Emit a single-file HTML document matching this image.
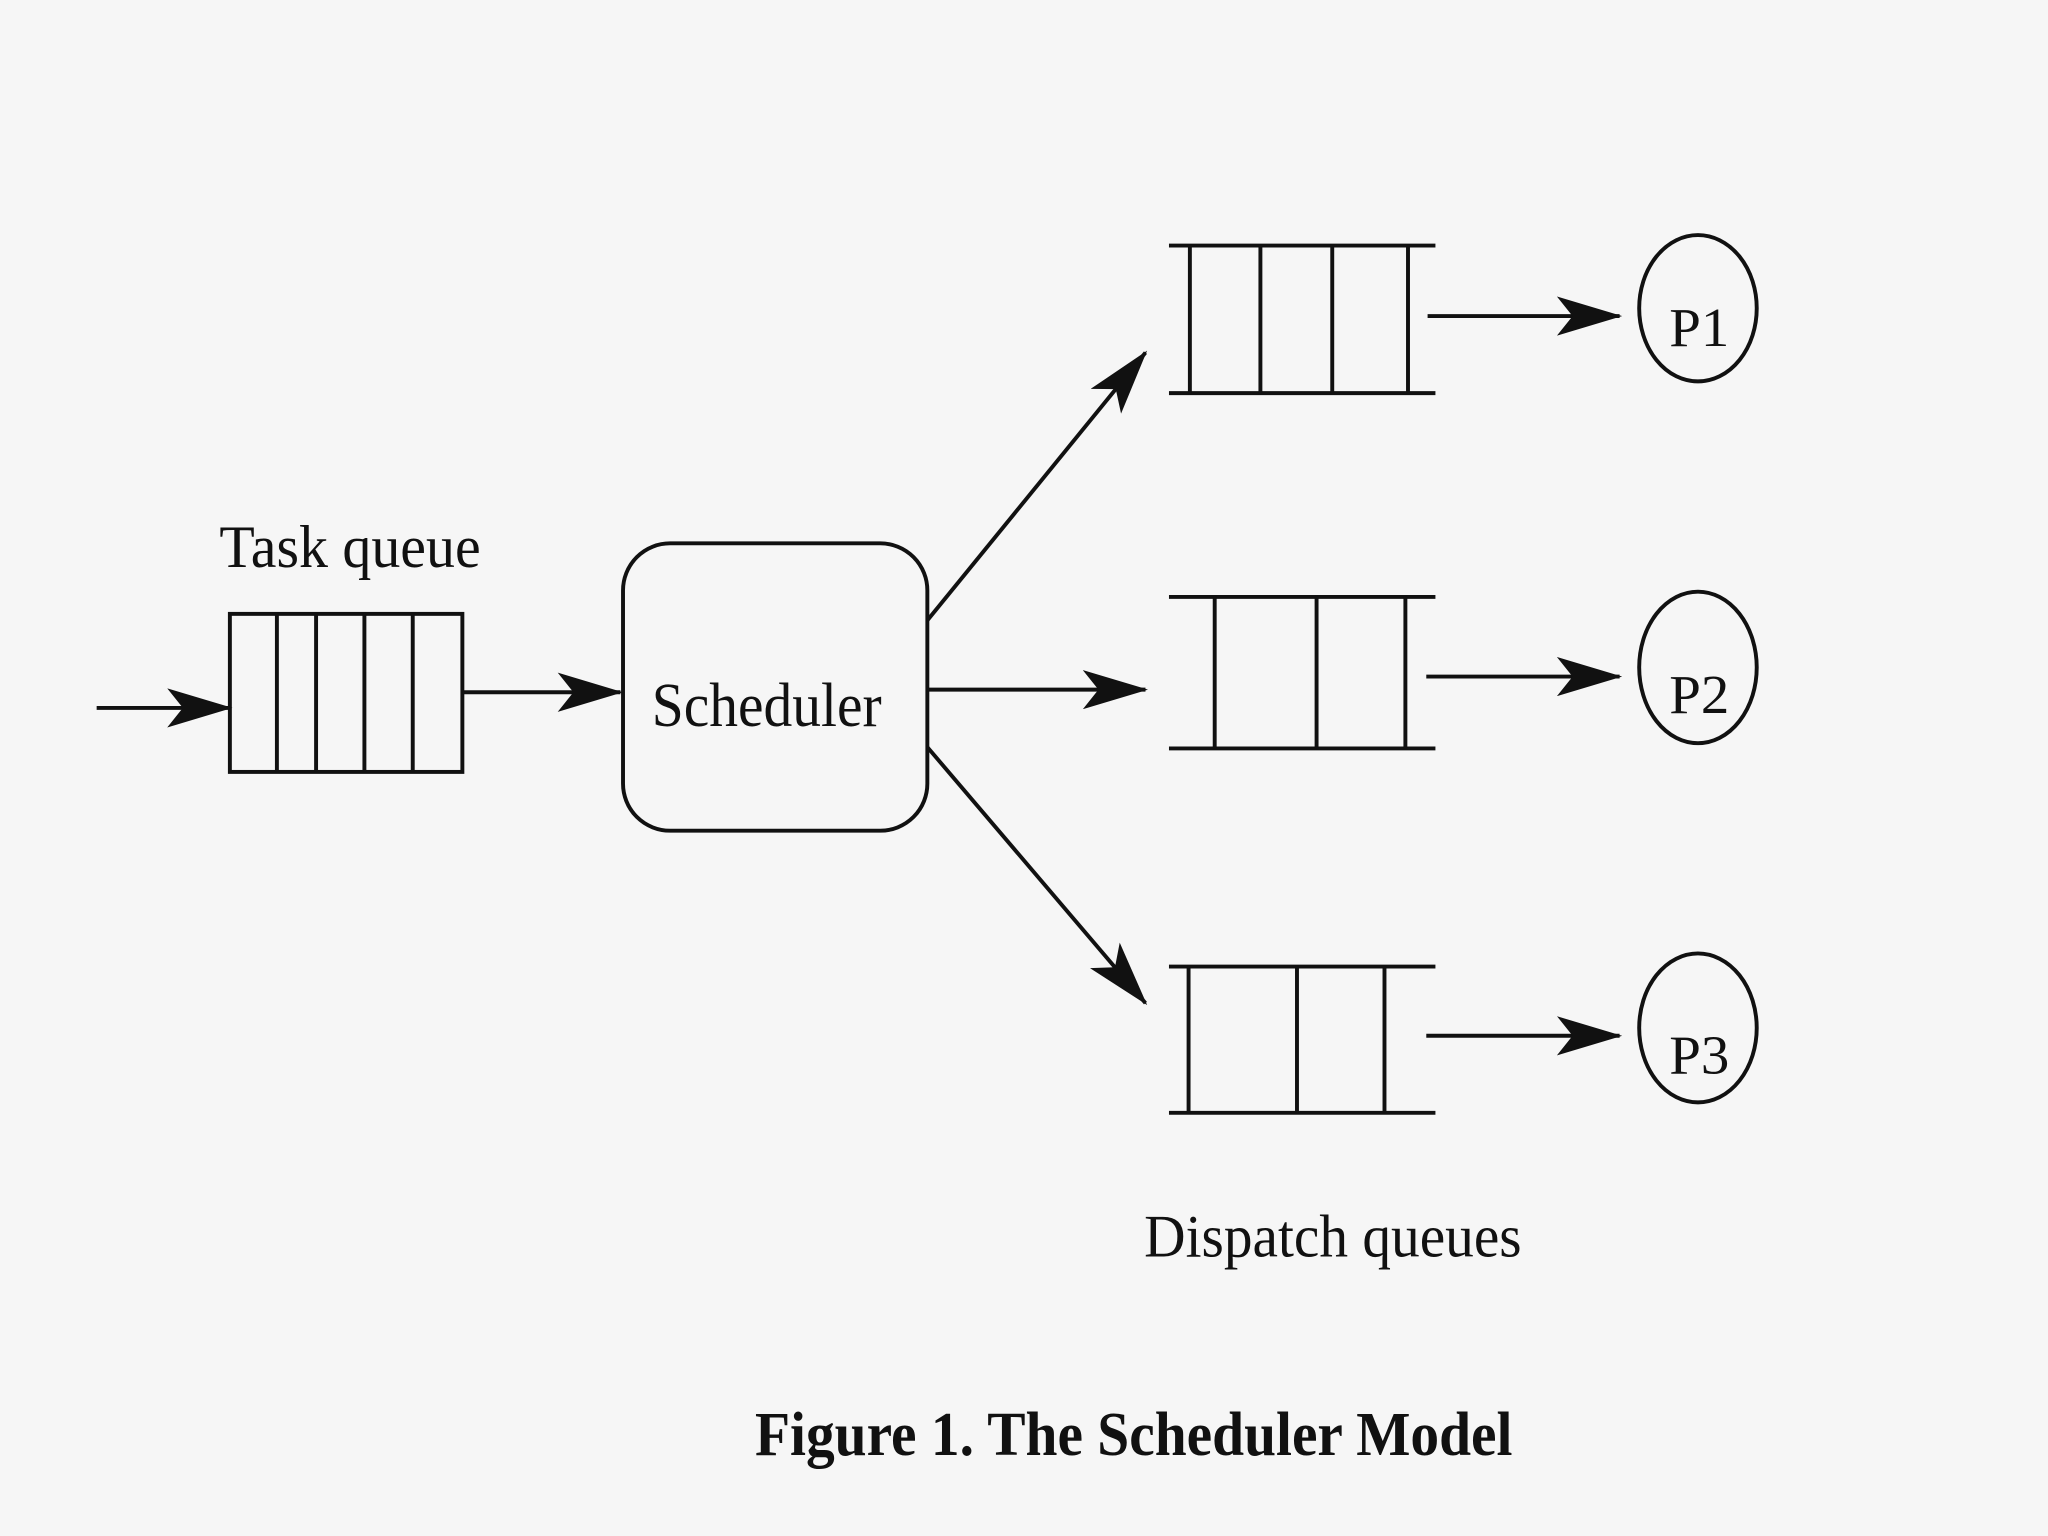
<!DOCTYPE html>
<html><head><meta charset="utf-8"><style>
html,body{margin:0;padding:0;background:#f6f6f6;}
svg{display:block;}
text{font-family:"Liberation Serif",serif;fill:#111;}
</style></head><body>
<svg width="2048" height="1536" viewBox="0 0 1568 1176" preserveAspectRatio="none" xmlns="http://www.w3.org/2000/svg">
<defs>
<marker id="ah" markerWidth="10" markerHeight="8" refX="9" refY="4" orient="auto" markerUnits="userSpaceOnUse" viewBox="0 0 10 8">
</marker>
<marker id="a" viewBox="0 0 50 30" refX="48" refY="15" markerWidth="50" markerHeight="30" orient="auto" markerUnits="userSpaceOnUse">
<path d="M0,0 L50,15 L0,30 L12,15 Z" fill="#111"/>
</marker>
</defs>
<rect width="1568" height="1176" fill="#f6f6f6"/>
<g stroke="#111" stroke-width="3" fill="none">
<!-- task queue -->
<rect x="176" y="470" width="178" height="121"/>
<line x1="212" y1="470" x2="212" y2="591"/>
<line x1="242" y1="470" x2="242" y2="591"/>
<line x1="279" y1="470" x2="279" y2="591"/>
<line x1="316" y1="470" x2="316" y2="591"/>
<line x1="74" y1="542" x2="176" y2="542" marker-end="url(#a)"/>
<line x1="354" y1="530" x2="475" y2="530" marker-end="url(#a)"/>
<!-- scheduler -->
<rect x="477" y="416" width="233" height="220" rx="36"/>
<line x1="710" y1="475" x2="877" y2="270" marker-end="url(#a)"/>
<line x1="710" y1="528" x2="877" y2="528" marker-end="url(#a)"/>
<line x1="710" y1="572" x2="877" y2="768" marker-end="url(#a)"/>
<!-- dispatch 1 -->
<line x1="895" y1="188" x2="1099" y2="188"/>
<line x1="895" y1="301" x2="1099" y2="301"/>
<line x1="911" y1="188" x2="911" y2="301"/>
<line x1="965" y1="188" x2="965" y2="301"/>
<line x1="1020" y1="188" x2="1020" y2="301"/>
<line x1="1078" y1="188" x2="1078" y2="301"/>
<line x1="1093" y1="242" x2="1240" y2="242" marker-end="url(#a)"/>
<!-- dispatch 2 -->
<line x1="895" y1="457" x2="1099" y2="457"/>
<line x1="895" y1="573" x2="1099" y2="573"/>
<line x1="930" y1="457" x2="930" y2="573"/>
<line x1="1008" y1="457" x2="1008" y2="573"/>
<line x1="1076" y1="457" x2="1076" y2="573"/>
<line x1="1092" y1="518" x2="1240" y2="518" marker-end="url(#a)"/>
<!-- dispatch 3 -->
<line x1="895" y1="740" x2="1099" y2="740"/>
<line x1="895" y1="852" x2="1099" y2="852"/>
<line x1="910" y1="740" x2="910" y2="852"/>
<line x1="993" y1="740" x2="993" y2="852"/>
<line x1="1060" y1="740" x2="1060" y2="852"/>
<line x1="1092" y1="793" x2="1240" y2="793" marker-end="url(#a)"/>
<!-- processors -->
<ellipse cx="1300" cy="236" rx="45" ry="56"/>
<ellipse cx="1300" cy="511" rx="45" ry="58"/>
<ellipse cx="1300" cy="787" rx="45" ry="57"/>
</g>
<text x="168" y="434" font-size="46" textLength="200" lengthAdjust="spacingAndGlyphs">Task queue</text>
<text x="499" y="556" font-size="48" textLength="176" lengthAdjust="spacingAndGlyphs">Scheduler</text>
<text x="1278" y="265" font-size="42" textLength="46" lengthAdjust="spacingAndGlyphs">P1</text>
<text x="1278" y="546" font-size="42" textLength="46" lengthAdjust="spacingAndGlyphs">P2</text>
<text x="1278" y="822" font-size="42" textLength="46" lengthAdjust="spacingAndGlyphs">P3</text>
<text x="876" y="962" font-size="46" textLength="289" lengthAdjust="spacingAndGlyphs">Dispatch queues</text>
<text x="578" y="1114" font-size="48" font-weight="bold" textLength="580" lengthAdjust="spacingAndGlyphs">Figure 1. The Scheduler Model</text>
</svg>
</body></html>
